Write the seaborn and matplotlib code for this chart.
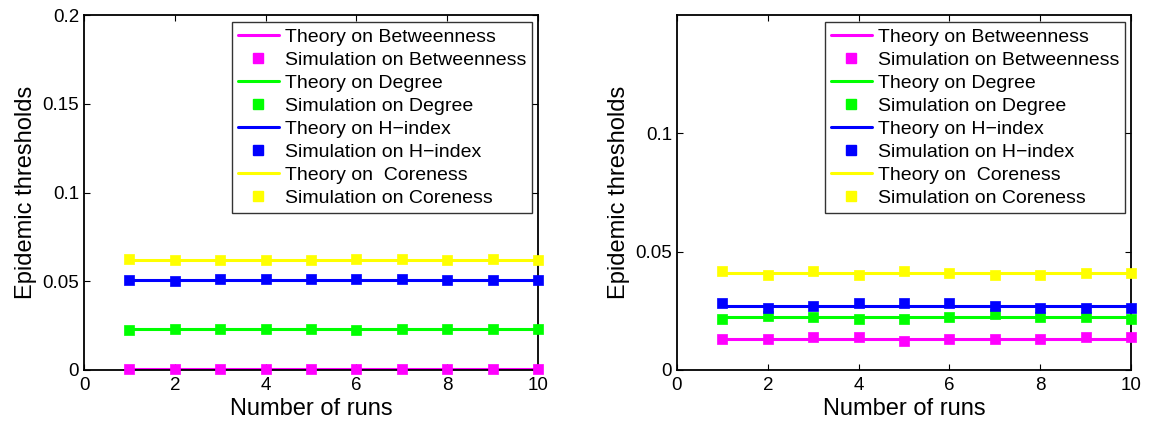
import numpy as np
import pandas as pd
import matplotlib
matplotlib.use("Agg")
import matplotlib.pyplot as plt
import seaborn as sns
from matplotlib.lines import Line2D

sns.set_style("ticks")
plt.rcParams['font.family'] = ['Liberation Sans', 'DejaVu Sans']
plt.rcParams['text.color'] = 'black'
plt.rcParams['axes.labelcolor'] = 'black'
plt.rcParams['xtick.color'] = 'black'
plt.rcParams['ytick.color'] = 'black'

runs = [1, 2, 3, 4, 5, 6, 7, 8, 9, 10]
measures = ["Betweenness", "Degree", "H\u2212index", " Coreness"]
colors = ["#FF00FF", "#00FF00", "#0000FF", "#FFFF00"]

# Left panel
left_theory = [0.0003, 0.0229, 0.0507, 0.0620]
left_sim = {
    "Betweenness": [0.0003, 0.0003, 0.0003, 0.0003, 0.0003, 0.0003, 0.0003, 0.0003, 0.0003, 0.0003],
    "Degree": [0.0225, 0.0233, 0.0233, 0.0229, 0.0233, 0.0225, 0.0229, 0.0233, 0.0233, 0.0233],
    "H\u2212index": [0.0509, 0.0503, 0.0514, 0.0514, 0.0514, 0.0514, 0.0514, 0.0509, 0.0509, 0.0505],
    " Coreness": [0.0625, 0.0618, 0.0618, 0.0618, 0.0618, 0.0625, 0.0625, 0.0618, 0.0625, 0.0618],
}
# Right panel
right_theory = [0.0131, 0.0225, 0.0271, 0.0408]
right_sim = {
    "Betweenness": [0.0131, 0.0131, 0.0141, 0.0141, 0.0123, 0.0131, 0.0131, 0.0131, 0.0141, 0.0141],
    "Degree": [0.0216, 0.0230, 0.0226, 0.0216, 0.0216, 0.0226, 0.0236, 0.0226, 0.0226, 0.0216],
    "H\u2212index": [0.0281, 0.0261, 0.0271, 0.0281, 0.0281, 0.0281, 0.0271, 0.0261, 0.0261, 0.0261],
    " Coreness": [0.0417, 0.0400, 0.0417, 0.0400, 0.0417, 0.0408, 0.0400, 0.0400, 0.0408, 0.0408],
}

W, H = 1155, 426
fig = plt.figure(figsize=(W / 100, H / 100), dpi=100)
ax1 = fig.add_axes([84 / W, (H - 370) / H, 454 / W, 355 / H])
ax2 = fig.add_axes([677 / W, (H - 370) / H, 454 / W, 355 / H])


def draw(ax, theory, sim, ylim, yticks, yticklabels):
    handles = []
    labels = []
    for m, c, t in zip(measures, colors, theory):
        tdf = pd.DataFrame({"run": runs, "val": [t] * len(runs)})
        sdf = pd.DataFrame({"run": runs, "val": sim[m]})
        sns.lineplot(data=tdf, x="run", y="val", color=c, lw=2.2, ax=ax, zorder=2)
        sns.scatterplot(data=sdf, x="run", y="val", color=c, marker="s", s=45,
                        edgecolor=c, linewidth=0.5, ax=ax, zorder=3, clip_on=False)
        handles.append(Line2D([], [], color=c, lw=2.2))
        labels.append(f"Theory on {m}")
        handles.append(Line2D([], [], color=c, lw=0, marker="s", markersize=6.5))
        labels.append(f"Simulation on {m.strip()}")
    ax.set_xlim(0, 10)
    ax.set_ylim(*ylim)
    ax.set_xticks([0, 2, 4, 6, 8, 10])
    ax.set_xticklabels(["0", "2", "4", "6", "8", "10"])
    ax.set_yticks(yticks)
    ax.set_yticklabels(yticklabels)
    ax.tick_params(direction="in", top=True, right=True, labelsize=13.5, length=4,
                   width=0.8)
    ax.tick_params(axis="x", pad=5)
    ax.tick_params(axis="y", pad=3.5)
    for s in ax.spines.values():
        s.set_linewidth(1.3)
        s.set_color("black")
        s.set_visible(True)
    ax.set_xlabel("Number of runs", fontsize=17, labelpad=3)
    ax.set_ylabel("Epidemic thresholds", fontsize=17, labelpad=4)
    leg = ax.legend(handles, labels, loc="upper right", bbox_to_anchor=(0.9865, 0.980),
                    fontsize=14, frameon=True, fancybox=False, edgecolor="black",
                    handlelength=2.1, handletextpad=0.3, labelspacing=0.28,
                    borderpad=0.3, borderaxespad=0)
    leg.get_frame().set_linewidth(1.0)


draw(ax1, left_theory, left_sim, (0, 0.2), [0, 0.05, 0.1, 0.15, 0.2],
     ["0", "0.05", "0.1", "0.15", "0.2"])
draw(ax2, right_theory, right_sim, (0, 0.15), [0, 0.05, 0.1],
     ["0", "0.05", "0.1"])

fig.savefig("out.png", dpi=100)
